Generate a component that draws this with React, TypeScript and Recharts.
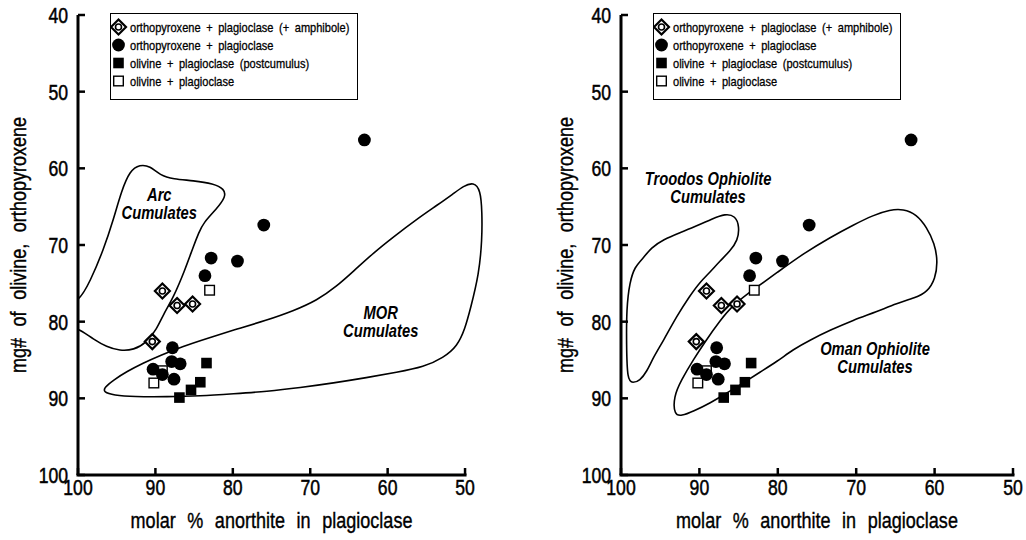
import React from 'react';
import {
  ScatterChart,
  Scatter,
  XAxis,
  YAxis,
  Legend,
  ReferenceLine,
  ReferenceDot,
} from 'recharts';

type Pt = { x: number; y: number };

// x = molar % anorthite in plagioclase, y = mg# of olivine / orthopyroxene
const opxPlagAmph: Pt[] = [
  { x: 89.1, y: 76.0 },
  { x: 87.2, y: 77.9 },
  { x: 85.2, y: 77.7 },
  { x: 90.4, y: 82.6 },
];

const opxPlag: Pt[] = [
  { x: 63.0, y: 56.3 },
  { x: 76.0, y: 67.4 },
  { x: 82.8, y: 71.7 },
  { x: 79.4, y: 72.1 },
  { x: 83.6, y: 74.0 },
  { x: 87.8, y: 83.4 },
  { x: 87.9, y: 85.2 },
  { x: 86.8, y: 85.5 },
  { x: 90.3, y: 86.2 },
  { x: 89.1, y: 86.9 },
  { x: 87.6, y: 87.5 },
];

const olPlagPost: Pt[] = [
  { x: 83.4, y: 85.4 },
  { x: 84.2, y: 87.9 },
  { x: 85.4, y: 88.9 },
  { x: 86.9, y: 89.9 },
];

const olPlag: Pt[] = [
  { x: 83.0, y: 75.9 },
  { x: 89.1, y: 86.4 },
  { x: 90.2, y: 88.0 },
];

// outlines of the comparison fields
const arcField: Pt[] = [
  { x: 102, y: 77.6 }, { x: 100, y: 77.6 }, { x: 98.4, y: 74.7 }, { x: 96.7, y: 70.6 },
  { x: 95.4, y: 66.6 }, { x: 94.4, y: 63.0 }, { x: 93.3, y: 60.3 }, { x: 92.0, y: 59.5 },
  { x: 90.7, y: 59.7 }, { x: 89.4, y: 60.9 }, { x: 87.7, y: 61.4 }, { x: 85.1, y: 61.6 },
  { x: 82.5, y: 62.0 }, { x: 81.1, y: 62.7 }, { x: 80.9, y: 63.7 }, { x: 82.1, y: 65.3 },
  { x: 83.8, y: 67.1 }, { x: 84.4, y: 68.4 }, { x: 85.1, y: 70.2 }, { x: 86.2, y: 73.3 },
  { x: 87.7, y: 76.9 }, { x: 89.0, y: 79.1 }, { x: 89.8, y: 80.9 }, { x: 91.1, y: 82.7 },
  { x: 92.8, y: 83.7 }, { x: 94.6, y: 83.8 }, { x: 96.3, y: 83.3 }, { x: 98.0, y: 82.3 },
  { x: 99.5, y: 81.2 }, { x: 100.5, y: 80.8 }, { x: 102, y: 80.0 },
];

const morField: Pt[] = [
  { x: 96.6, y: 88.6 }, { x: 95.4, y: 87.6 }, { x: 93.7, y: 86.5 }, { x: 91.6, y: 85.4 },
  { x: 89.4, y: 84.4 }, { x: 86.4, y: 83.2 }, { x: 83.4, y: 82.2 }, { x: 79.9, y: 81.1 },
  { x: 75.6, y: 79.8 }, { x: 72.2, y: 78.6 }, { x: 69.1, y: 77.2 }, { x: 66.6, y: 75.4 },
  { x: 64.4, y: 73.4 }, { x: 61.8, y: 71.0 }, { x: 59.2, y: 68.9 }, { x: 56.2, y: 66.6 },
  { x: 53.6, y: 64.8 }, { x: 51.5, y: 63.3 }, { x: 50.2, y: 62.3 }, { x: 48.9, y: 61.8 },
  { x: 48.0, y: 62.8 }, { x: 47.8, y: 65.7 }, { x: 47.8, y: 69.3 }, { x: 48.2, y: 73.8 },
  { x: 49.3, y: 78.3 }, { x: 50.0, y: 80.9 }, { x: 51.0, y: 83.2 }, { x: 52.8, y: 84.7 },
  { x: 55.3, y: 85.9 }, { x: 58.8, y: 86.6 }, { x: 62.7, y: 87.3 }, { x: 67.0, y: 88.0 },
  { x: 71.3, y: 88.6 }, { x: 75.6, y: 89.1 }, { x: 79.9, y: 89.4 }, { x: 84.2, y: 89.7 },
  { x: 88.5, y: 89.8 }, { x: 92.8, y: 89.8 }, { x: 95.4, y: 89.6 }, { x: 96.7, y: 89.2 },
];

const troodosField: Pt[] = [
  { x: 99.2, y: 87.7 }, { x: 99.3, y: 82.9 }, { x: 99.3, y: 78.4 }, { x: 98.9, y: 74.8 },
  { x: 98.2, y: 72.8 }, { x: 97.4, y: 72.0 }, { x: 96.1, y: 70.3 }, { x: 94.6, y: 69.3 },
  { x: 92.5, y: 68.4 }, { x: 90.3, y: 67.5 }, { x: 88.4, y: 66.6 }, { x: 86.7, y: 65.9 },
  { x: 85.4, y: 66.2 }, { x: 84.9, y: 67.6 }, { x: 85.1, y: 69.4 }, { x: 86.1, y: 70.8 },
  { x: 87.4, y: 72.1 }, { x: 88.6, y: 73.5 }, { x: 89.9, y: 74.8 }, { x: 91.2, y: 76.6 },
  { x: 92.9, y: 79.3 }, { x: 94.6, y: 82.5 }, { x: 95.9, y: 84.7 }, { x: 96.7, y: 86.5 },
  { x: 97.6, y: 87.7 }, { x: 98.5, y: 88.0 },
];

const omanField: Pt[] = [
  { x: 93.2, y: 92.2 }, { x: 93.3, y: 89.8 }, { x: 92.3, y: 87.6 }, { x: 90.8, y: 85.0 },
  { x: 89.2, y: 82.5 }, { x: 87.4, y: 79.9 }, { x: 85.7, y: 77.8 }, { x: 83.1, y: 75.8 },
  { x: 80.1, y: 73.6 }, { x: 76.7, y: 71.1 }, { x: 73.3, y: 69.0 }, { x: 70.4, y: 67.4 },
  { x: 67.8, y: 66.1 }, { x: 65.7, y: 65.4 }, { x: 64.0, y: 65.3 }, { x: 62.3, y: 66.0 },
  { x: 61.0, y: 67.7 }, { x: 60.0, y: 69.8 }, { x: 59.6, y: 72.1 }, { x: 59.9, y: 74.4 },
  { x: 60.9, y: 76.1 }, { x: 62.5, y: 76.9 }, { x: 64.8, y: 77.6 }, { x: 67.4, y: 78.7 },
  { x: 70.4, y: 79.8 }, { x: 73.3, y: 81.1 }, { x: 75.9, y: 82.4 }, { x: 78.0, y: 83.6 },
  { x: 80.1, y: 85.2 }, { x: 82.3, y: 86.6 }, { x: 84.4, y: 88.0 }, { x: 86.5, y: 89.3 },
  { x: 88.6, y: 90.6 }, { x: 90.8, y: 91.7 }, { x: 92.3, y: 92.3 },
];

const xTicks = [100, 90, 80, 70, 60, 50];
const yTicks = [40, 50, 60, 70, 80, 90, 100];

const legendLabels = [
  'orthopyroxene + plagioclase (+ amphibole)',
  'orthopyroxene + plagioclase',
  'olivine + plagioclase (postcumulus)',
  'olivine + plagioclase',
];

const xTitle = 'molar % anorthite in plagioclase';
const yTitle = 'mg# of olivine, orthopyroxene';

const FONT = 'Arial, "Liberation Sans", Helvetica, sans-serif';

// markers
const DiamondMark = ({ cx, cy }: any) => (
  <g>
    <path
      d={`M${cx},${cy - 7.5}L${cx + 7.5},${cy}L${cx},${cy + 7.5}L${cx - 7.5},${cy}Z`}
      fill="#fff"
      stroke="#000"
      strokeWidth={2.2}
    />
    <circle cx={cx} cy={cy} r={3} fill="#fff" stroke="#000" strokeWidth={1.6} />
  </g>
);
const DotMark = ({ cx, cy }: any) => <circle cx={cx} cy={cy} r={6.4} fill="#000" />;
const SquareMark = ({ cx, cy }: any) => (
  <rect x={cx - 5.3} y={cy - 5.3} width={10.6} height={10.6} fill="#000" />
);
const OpenSquareMark = ({ cx, cy }: any) => (
  <rect x={cx - 4.8} y={cy - 4.8} width={9.6} height={9.6} fill="#fff" stroke="#000" strokeWidth={1.4} />
);
const NoMark = () => <g />;

const legendMarks = [DiamondMark, DotMark, SquareMark, OpenSquareMark];

const XTick = ({ x, y, payload }: any) => (
  <g>
    <line x1={x} x2={x} y1={y} y2={y - 7} stroke="#000" strokeWidth={2.5} />
    <text
      transform={`translate(${x},${y + 20}) scale(0.8,1)`}
      textAnchor="middle"
      fontSize={22}
      fontFamily={FONT}
      fill="#000"
      stroke="#000"
      strokeWidth={0.5}
    >
      {payload.value}
    </text>
  </g>
);

const YTick = ({ x, y, payload }: any) => (
  <g>
    <line x1={x} x2={x + 7} y1={y} y2={y} stroke="#000" strokeWidth={2.5} />
    <text
      transform={`translate(${x - 10},${y}) scale(0.8,1)`}
      textAnchor="end"
      dy="0.36em"
      fontSize={22}
      fontFamily={FONT}
      fill="#000"
      stroke="#000"
      strokeWidth={0.5}
    >
      {payload.value}
    </text>
  </g>
);

const YTitle = ({ viewBox }: any) => {
  const cx = viewBox.x + 10;
  const cy = viewBox.y + viewBox.height / 2;
  return (
    <text
      transform={`translate(${cx},${cy}) rotate(-90) scale(0.82,1)`}
      textAnchor="middle"
      dy="0.35em"
      fontSize={22}
      wordSpacing={8}
      fontFamily={FONT}
      fill="#000"
      stroke="#000"
      strokeWidth={0.4}
    >
      {yTitle}
    </text>
  );
};

const XTitle = ({ viewBox }: any) => {
  const cx = viewBox.x + viewBox.width / 2;
  const cy = viewBox.y + 53;
  return (
    <text
      transform={`translate(${cx},${cy}) scale(0.82,1)`}
      textAnchor="middle"
      fontSize={22}
      wordSpacing={8}
      fontFamily={FONT}
      fill="#000"
      stroke="#000"
      strokeWidth={0.4}
    >
      {xTitle}
    </text>
  );
};

const regionText = (lines: string[]) => ({ viewBox }: any) => (
  <g>
    {lines.map((line, i) => (
      <text
        key={line}
        transform={`translate(${viewBox.x},${viewBox.y + (i - (lines.length - 1) / 2) * 18}) scale(0.82,1)`}
        textAnchor="middle"
        dy="0.36em"
        fontSize={18}
        fontWeight="bold"
        fontStyle="italic"
        fontFamily={FONT}
        fill="#000"
      >
        {line}
      </text>
    ))}
  </g>
);

const LegendBox = () => (
  <div
    style={{
      width: 248,
      height: 87,
      border: '1.5px solid #000',
      boxSizing: 'border-box',
      background: '#fff',
    }}
  >
    <svg width={245} height={84} style={{ display: 'block' }}>
      {legendLabels.map((label, i) => {
        const Mark = legendMarks[i];
        const cy = 13 + i * 18;
        return (
          <g key={label}>
            <Mark cx={7.5} cy={cy} />
            <text
              transform={`translate(19,${cy}) scale(0.85,1)`}
              dy="0.36em"
              fontSize={13}
              wordSpacing={3}
              fontFamily={FONT}
              fill="#000"
              stroke="#000"
              strokeWidth={0.3}
            >
              {label}
            </text>
          </g>
        );
      })}
    </svg>
  </div>
);

type Region = { points: Pt[]; label: string[]; at: Pt };

interface PanelProps {
  xMin: number;
  marginLeft: number;
  marginRight: number;
  yAxisWidth: number;
  regions: Region[];
}

function Panel({ xMin, marginLeft, marginRight, yAxisWidth, regions }: PanelProps) {
  const plotLeft = marginLeft + yAxisWidth;
  return (
    <ScatterChart
      width={513}
      height={540}
      margin={{ top: 15, right: marginRight, bottom: 25, left: marginLeft }}
    >
      <XAxis
        type="number"
        dataKey="x"
        domain={[xMin, 100]}
        reversed
        allowDataOverflow
        ticks={xTicks}
        interval={0}
        height={40}
        axisLine={false}
        tickLine={false}
        tickSize={0}
        tickMargin={0}
        tick={XTick}
      />
      <YAxis
        type="number"
        dataKey="y"
        domain={[40, 100]}
        reversed
        ticks={yTicks}
        interval={0}
        width={yAxisWidth}
        axisLine={{ stroke: '#000', strokeWidth: 3 }}
        tickLine={false}
        tickSize={0}
        tickMargin={0}
        tick={YTick}
        label={{ content: YTitle }}
      />
      <ReferenceLine
        segment={[{ x: 100, y: 100 }, { x: 50, y: 100 }]}
        stroke="#000"
        strokeWidth={3}
        strokeLinecap="square"
        label={{ content: XTitle }}
      />
      {regions.map((r, i) => (
        <Scatter
          key={`field-${i}`}
          data={r.points}
          line={{ stroke: '#000', strokeWidth: 1.6 }}
          lineType="joint"
          lineJointType="basisClosed"
          shape={NoMark}
          legendType="none"
          isAnimationActive={false}
        />
      ))}
      <Scatter name={legendLabels[3]} data={olPlag} shape={OpenSquareMark} isAnimationActive={false} />
      <Scatter name={legendLabels[2]} data={olPlagPost} shape={SquareMark} isAnimationActive={false} />
      <Scatter name={legendLabels[1]} data={opxPlag} shape={DotMark} isAnimationActive={false} />
      <Scatter name={legendLabels[0]} data={opxPlagAmph} shape={DiamondMark} isAnimationActive={false} />
      {regions.map((r, i) => (
        <ReferenceDot
          key={`label-${i}`}
          x={r.at.x}
          y={r.at.y}
          r={0}
          fill="none"
          stroke="none"
          label={{ content: regionText(r.label) }}
        />
      ))}
      <Legend
        layout="horizontal"
        verticalAlign="middle"
        align="center"
        wrapperStyle={{ left: plotLeft + 32, top: 13, width: 248, height: 87 }}
        content={LegendBox}
      />
    </ScatterChart>
  );
}

const leftRegions: Region[] = [
  { points: arcField, label: ['Arc', 'Cumulates'], at: { x: 89.5, y: 64.6 } },
  { points: morField, label: ['MOR', 'Cumulates'], at: { x: 60.9, y: 80.0 } },
];

const rightRegions: Region[] = [
  { points: troodosField, label: ['Troodos Ophiolite', 'Cumulates'], at: { x: 88.9, y: 62.5 } },
  { points: omanField, label: ['Oman Ophiolite', 'Cumulates'], at: { x: 67.6, y: 84.7 } },
];

export default function App() {
  return (
    <div
      style={{
        position: 'absolute',
        left: 0,
        top: 0,
        width: 1026,
        height: 540,
        background: '#fff',
        display: 'flex',
      }}
    >
      <Panel xMin={47.5} marginLeft={8} marginRight={28.6} yAxisWidth={70} regions={leftRegions} />
      <Panel xMin={50} marginLeft={42} marginRight={13} yAxisWidth={66} regions={rightRegions} />
    </div>
  );
}
